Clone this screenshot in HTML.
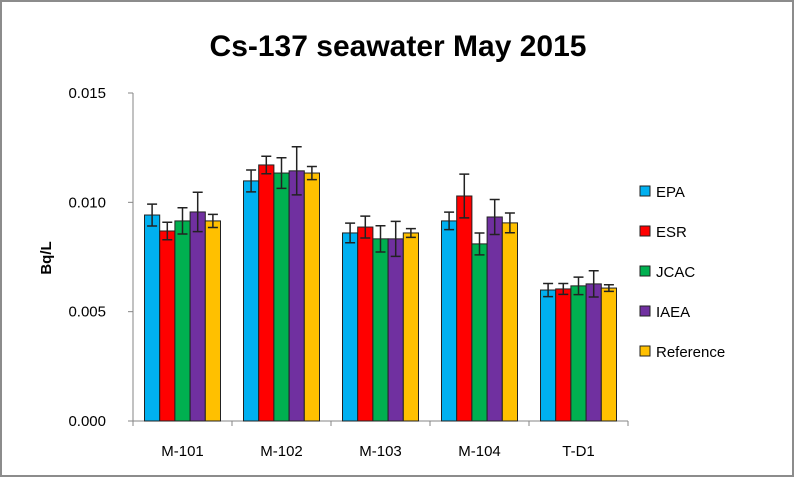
<!DOCTYPE html>
<html><head><meta charset="utf-8"><style>
body{margin:0;background:#fff;}
svg{display:block;font-family:"Liberation Sans",sans-serif;}
</style></head><body>
<svg id="chart" width="795" height="478" viewBox="0 0 795 478">
<rect x="1" y="1" width="792" height="475" fill="#fff" stroke="#8c8c8c" stroke-width="2"/>
<text x="398" y="56" text-anchor="middle" font-size="30" font-weight="bold" fill="#000">Cs-137 seawater May 2015</text>
<text transform="translate(51,258) rotate(-90)" text-anchor="middle" font-size="15" font-weight="bold">Bq/L</text>
<g id="axes"></g><g id="bars"></g><g id="legend"></g>
</svg>
<script>
const categories=["M-101","M-102","M-103","M-104","T-D1"];
const seriesNames=["EPA","ESR","JCAC","IAEA","Reference"];
const colors=["#00b0f0","#ff0000","#00b050","#7030a0","#ffc000"];
const EPA=[0.00942,0.01098,0.0086,0.00915,0.00599];
const ESR=[0.00869,0.01171,0.00887,0.01029,0.00604];
const JCAC=[0.00915,0.01134,0.00833,0.0081,0.00618];
const IAEA=[0.00956,0.01144,0.00833,0.00933,0.00627];
const Reference=[0.00915,0.01134,0.0086,0.00906,0.00608];
const EPAerr=[0.0005,0.0005,0.00045,0.0004,0.0003];
const ESRerr=[0.0004,0.0004,0.0005,0.001,0.00025];
const JCACerr=[0.0006,0.0007,0.0006,0.0005,0.0004];
const IAEAerr=[0.0009,0.0011,0.0008,0.0008,0.0006];
const Referr=[0.0003,0.0003,0.0002,0.00045,0.00015];
const yTicks=[0,0.005,0.01,0.015];
const yTickLabels=["0.000","0.005","0.010","0.015"];
const series=[EPA,ESR,JCAC,IAEA,Reference];
const errs=[EPAerr,ESRerr,JCACerr,IAEAerr,Referr];
const NS="http://www.w3.org/2000/svg";
const X0=133,X1=628,Y0=421,Y1=93,YMAX=0.015;
const y=v=>Y0-(v/YMAX)*(Y0-Y1);
const band=(X1-X0)/categories.length;
const bw=15.2;
function mk(tag,attrs,parent){const e=document.createElementNS(NS,tag);for(const k in attrs)e.setAttribute(k,attrs[k]);parent.appendChild(e);return e;}
const axes=document.getElementById('axes'),bars=document.getElementById('bars'),legend=document.getElementById('legend');
yTicks.forEach((t,i)=>{
 const tk=mk('line',{x1:X0-5,x2:X0,y1:y(t),y2:y(t),stroke:'#868686'},axes);
 
 
 const tx=mk('text',{x:X0-27,y:y(t)+5,'text-anchor':'end','font-size':15},axes);
 tx.textContent=yTickLabels[i];
 
 
});
const ya=mk('line',{x1:X0,x2:X0,y1:Y1,y2:Y0,stroke:'#868686'},axes);


const xa=mk('line',{x1:X0,x2:X1,y1:Y0,y2:Y0,stroke:'#868686'},axes);


for(let i=0;i<=categories.length;i++){
 const tk=mk('line',{x1:X0+i*band,x2:X0+i*band,y1:Y0,y2:Y0+5,stroke:'#868686'},axes);
 
 
}
categories.forEach((c,i)=>{
 const tx=mk('text',{x:X0+(i+0.5)*band,y:Y0+35,'text-anchor':'middle','font-size':15},axes);
 tx.textContent=c;
 
 
 const gx=X0+(i+0.5)*band-bw*series.length/2;
 series.forEach((s,j)=>{
  const x=gx+j*bw,top=y(s[i]);
  const r=mk('rect',{x:x,y:top,width:bw,height:Y0-top,fill:colors[j],stroke:'#222','stroke-width':1},bars);
  
  
  const cx=x+bw/2,e=errs[j][i],a=y(s[i]+e),b=y(s[i]-e);
  const g=mk('path',{d:`M${cx},${a}V${b}M${cx-5},${a}H${cx+5}M${cx-5},${b}H${cx+5}`,stroke:'#222','stroke-width':1.5,fill:'none'},bars);
  
  
 });
});
seriesNames.forEach((n,j)=>{
 const ly=192+j*40;
 const r=mk('rect',{x:640,y:ly-6,width:10,height:10,fill:colors[j],stroke:'#222'},legend);
 
 
 const t=mk('text',{x:656,y:ly+5,'font-size':15},legend);
 t.textContent=n;
 
 
});
</script>
</body></html>
